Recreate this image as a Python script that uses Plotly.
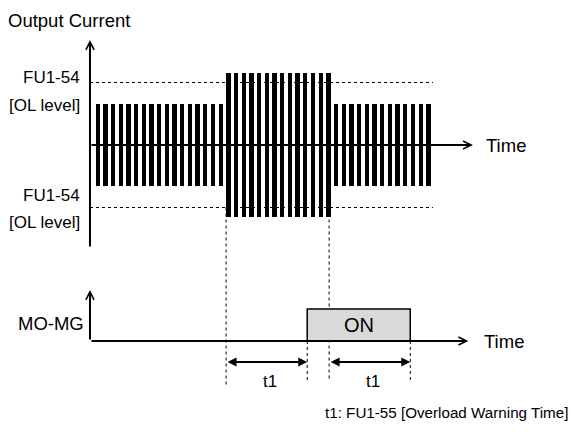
import plotly.graph_objects as go

# x axis: time, one unit = one current pulse period, 0 at the vertical axis
# y axis: signal level, 0 on the current time axis
pulse_no = list(range(1, 45))
pulse_amp = [41] * 17 + [72] * 14 + [41] * 13     # peak of each output current pulse
ol_level = 62.5                                     # FU1-54 [OL level]

ol_start = 17.7      # current rises above OL level
ol_end = 31.1        # current falls back
t1 = 10.55           # FU1-55 overload warning time
on_start = ol_start + t1
on_end = ol_end + t1

mo_base = -196       # MO-MG off level (lower chart baseline)
mo_on = -164         # MO-MG on level

FAMILY = "Liberation Sans, Arial, sans-serif"

fig = go.Figure()

fig.add_trace(go.Bar(
    x=pulse_no,
    y=[2 * a for a in pulse_amp],
    base=[-a for a in pulse_amp],
    width=0.56,
    marker=dict(color="black", line=dict(width=0)),
    hoverinfo="skip",
))

shapes = []
# OL level dotted lines
for lvl in (ol_level, -ol_level):
    shapes.append(dict(type="line", x0=0, x1=44.6, y0=lvl, y1=lvl, layer="below",
                       line=dict(color="black", width=1, dash="dot")))
# event dotted lines
for xv, y0, y1 in [(ol_start, -ol_level, -240), (ol_end, -ol_level, -235),
                   (on_start, mo_base, -235), (on_end, mo_base, -235)]:
    shapes.append(dict(type="line", x0=xv, x1=xv, y0=y0, y1=y1, layer="below",
                       line=dict(color="black", width=1, dash="dot")))
# ON pulse
shapes.append(dict(type="rect", x0=on_start, x1=on_end, y0=mo_base, y1=mo_on,
                   fillcolor="#d9d9d9", line=dict(color="black", width=1.5)))

ann = []


def arrow(x, y, ax, ay, head=5, width=2, size=0.8, side="end"):
    ann.append(dict(x=x, y=y, ax=ax, ay=ay, xref="x", yref="y", axref="x", ayref="y",
                    text="", showarrow=True, arrowhead=head, startarrowhead=head,
                    arrowsize=size, startarrowsize=size, arrowwidth=width,
                    arrowcolor="black", arrowside=side, standoff=0, startstandoff=0))


# axes
arrow(0, 105, 0, -103)
arrow(49.8, 0, 0, 0)
arrow(0, -145, 0, mo_base)
arrow(49.2, mo_base, 0, mo_base)
# t1 spans
arrow(on_start, -217, ol_start, -217, head=2, width=2, size=0.9, side="end+start")
arrow(on_end, -217, ol_end, -217, head=2, width=2, size=0.9, side="end+start")


def label(x, y, text, size, xanchor="center"):
    ann.append(dict(x=x, y=y, xref="x", yref="y", text=text, showarrow=False,
                    xanchor=xanchor, yanchor="middle",
                    font=dict(family=FAMILY, size=size, color="black")))


label(-10.9, 125, "Output Current", 18.5, "left")
label(-1.1, 68, "FU1-54", 17, "right")
label(-1.1, 40, "[OL level]", 17, "right")
label(-1.1, -50, "FU1-54", 17, "right")
label(-1.1, -77, "[OL level]", 17, "right")
label(-0.55, -178, "MO-MG", 18.5, "right")
label(51.3, 0, "Time", 18.5, "left")
label(51.0, -196, "Time", 18.5, "left")
label((on_start + on_end) / 2, -180, "ON", 20)
label(23.4, -236, "t1", 17)
label(36.8, -236, "t1", 17)
label(62.45, -267, "t1: FU1-55 [Overload Warning Time]", 15.2, "right")

fig.update_layout(
    width=571, height=439,
    margin=dict(l=0, r=0, t=0, b=0),
    paper_bgcolor="white", plot_bgcolor="white",
    showlegend=False,
    shapes=shapes, annotations=ann,
    xaxis=dict(range=[-11.70, 62.55], visible=False, fixedrange=True),
    yaxis=dict(range=[-294, 145], visible=False, fixedrange=True),
    bargap=0,
)

fig.write_html("out.html", config={"displayModeBar": False},
               post_script="document.body.style.margin='0px';")
